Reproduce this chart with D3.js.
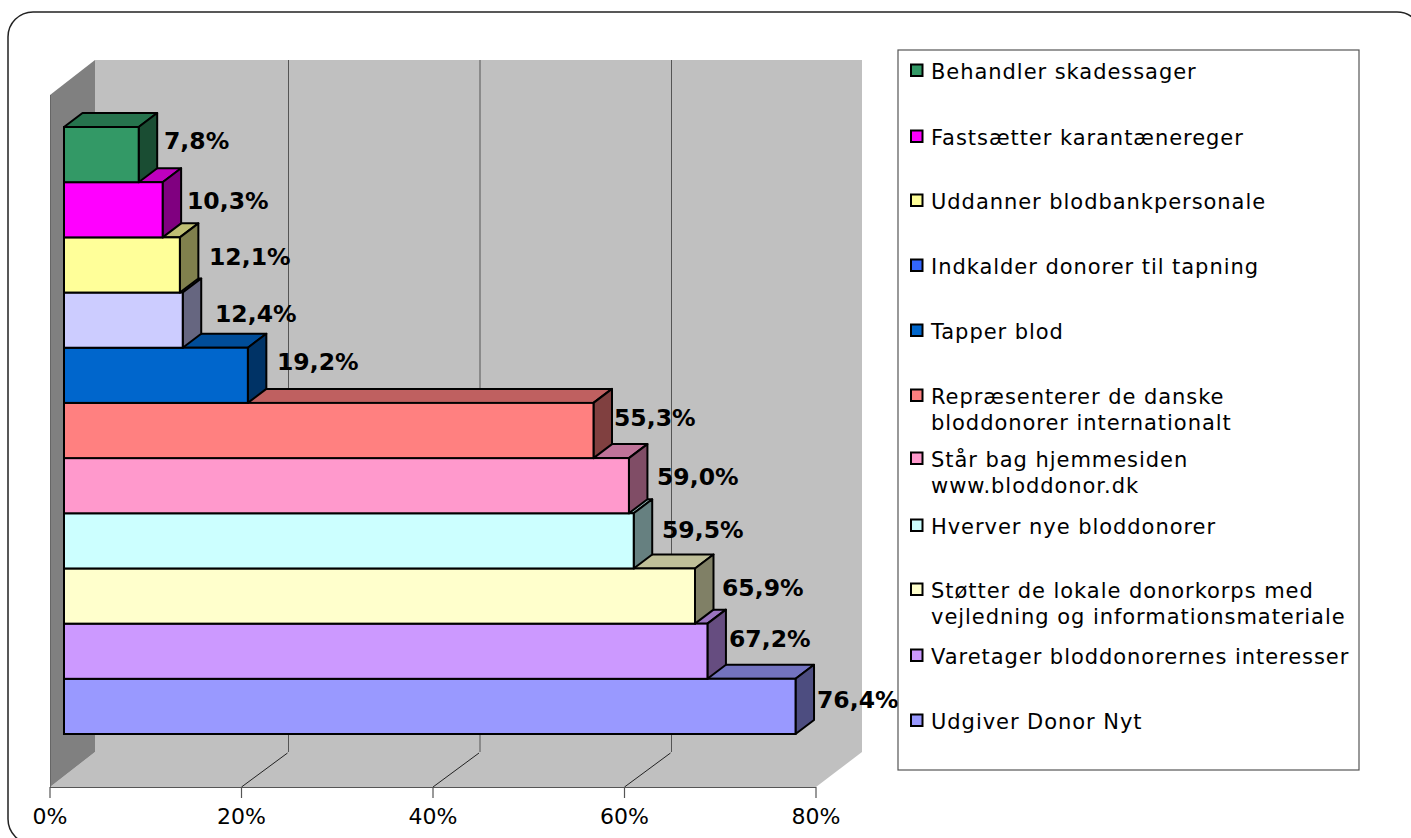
<!DOCTYPE html>
<html><head><meta charset="utf-8">
<style>html,body{margin:0;padding:0;background:#fff;overflow:hidden}svg{display:block}</style>
<script src="https://cdn.jsdelivr.net/npm/d3@7"></script></head>
<body><svg id="c" width="1411" height="838"></svg>
<script>
const categories=["Behandler skadessager","Fastsætter karantænereger","Uddanner blodbankpersonale","Indkalder donorer til tapning","Tapper blod","Repræsenterer de danske bloddonorer internationalt","Står bag hjemmesiden www.bloddonor.dk","Hverver nye bloddonorer","Støtter de lokale donorkorps med vejledning og informationsmateriale","Varetager bloddonorernes interesser","Udgiver Donor Nyt"];
const legendLines=[["Behandler skadessager"],["Fastsætter karantænereger"],["Uddanner blodbankpersonale"],["Indkalder donorer til tapning"],["Tapper blod"],["Repræsenterer de danske","bloddonorer internationalt"],["Står bag hjemmesiden","www.bloddonor.dk"],["Hverver nye bloddonorer"],["Støtter de lokale donorkorps med","vejledning og informationsmateriale"],["Varetager bloddonorernes interesser"],["Udgiver Donor Nyt"]];
const values=[7.8,10.3,12.1,12.4,19.2,55.3,59.0,59.5,65.9,67.2,76.4];
const barColors=["#339966","#FF00FF","#FFFF99","#CCCCFF","#0066CC","#FF8080","#FF99CC","#CCFFFF","#FFFFCC","#CC99FF","#9999FF"];
const legendColors=["#339966","#FF00FF","#FFFF99","#3366FF","#0066CC","#FF8080","#FF99CC","#CCFFFF","#FFFFCC","#CC99FF","#9999FF"];
const ticks=[0,20,40,60,80];
const legendY=[71,137,201,266,331,409,472,526,603,656,721];

const svg=d3.select("#c");
const font="'DejaVu Sans',Verdana,sans-serif";
const x=d3.scaleLinear().domain([0,80]).range([50,816]);
const depth={dx:45,dy:-35};
const floorY=787,wallTop=95;
const barDepth={dx:18.5,dy:-14};
const barOff=14;
const y=d3.scaleBand().domain(categories).range([127,734]).padding(0);

svg.append("rect").attr("x",8).attr("y",12).attr("width",1414).attr("height",832).attr("rx",25).attr("fill","#fff").attr("stroke","#222").attr("stroke-width",1.5);

const poly=(pts,fill,stroke,sw)=>svg.append("polygon").attr("points",pts.map(p=>p.join(",")).join(" ")).attr("fill",fill).attr("stroke",stroke||"none").attr("stroke-width",sw||0).attr("stroke-linejoin","round");
const X0=x(0),X1=x(80);
poly([[X0+depth.dx,wallTop+depth.dy],[X1+depth.dx+1,wallTop+depth.dy],[X1+depth.dx+1,floorY+depth.dy],[X0+depth.dx,floorY+depth.dy]],"#C0C0C0");
poly([[X0,floorY],[X1,floorY],[X1+depth.dx+1,floorY+depth.dy],[X0+depth.dx,floorY+depth.dy]],"#C0C0C0");
poly([[X0,wallTop],[X0+depth.dx,wallTop+depth.dy],[X0+depth.dx,floorY+depth.dy],[X0,floorY]],"#808080");
ticks.filter(t=>t>0&&t<80).forEach(t=>{
  svg.append("line").attr("x1",x(t)+47).attr("x2",x(t)+47).attr("y1",wallTop+depth.dy).attr("y2",floorY+depth.dy).attr("stroke","#555").attr("stroke-width",1);
  svg.append("line").attr("x1",x(t)).attr("x2",x(t)+46).attr("y1",floorY).attr("y2",floorY+depth.dy+1).attr("stroke","#222").attr("stroke-width",1);
});
svg.append("line").attr("x1",X0).attr("x2",X1).attr("y1",floorY+.5).attr("y2",floorY+.5).attr("stroke","#555").attr("stroke-width",1.2);
svg.append("line").attr("x1",X0+.5).attr("x2",X0+.5).attr("y1",wallTop).attr("y2",floorY).attr("stroke","#666").attr("stroke-width",1);
ticks.forEach(t=>{
  svg.append("line").attr("x1",x(t)).attr("x2",x(t)).attr("y1",floorY).attr("y2",floorY+11).attr("stroke","#555").attr("stroke-width",1.2);
  svg.append("text").attr("x",x(t)).attr("y",824).attr("text-anchor","middle").attr("font-family",font).attr("font-size",22).attr("fill","#000").text(t+"%");
});
const xb=v=>barOff+x(v);
const shade=(c,k)=>{const q=d3.rgb(c);return d3.rgb(q.r*k,q.g*k,q.b*k).formatHex();};
d3.range(categories.length-1,-1,-1).forEach(i=>{
  const c=categories[i];
  const t=y(c),b=t+y.bandwidth(),l=xb(0),r=xb(values[i]);
  const d=barDepth;
  poly([[l,t],[l+d.dx,t+d.dy],[r+d.dx,t+d.dy],[r,t]],shade(barColors[i],.75),"#000",2);
  poly([[r,t],[r+d.dx,t+d.dy],[r+d.dx,b+d.dy],[r,b]],shade(barColors[i],.5),"#000",2);
  svg.append("rect").attr("x",l).attr("y",t).attr("width",r-l).attr("height",b-t).attr("fill",barColors[i]).attr("stroke","#000").attr("stroke-width",2);
});
const labelX=[164,187,209,215,277,614,657,662,722,729,817];
const labelY=[140,200,256,313,361,417,476,529,587,638,699];
categories.forEach((c,i)=>{
  svg.append("text").attr("x",labelX[i]).attr("y",labelY[i]).attr("dy",9).attr("font-family",font).attr("font-weight","bold").attr("font-size",23.5).attr("fill","#000").text(values[i].toFixed(1).replace(".",",")+"%");
});
svg.append("rect").attr("x",898).attr("y",50).attr("width",461).attr("height",720).attr("fill","none").attr("stroke","#555").attr("stroke-width",1.2);
categories.forEach((c,i)=>{
  const ly=legendY[i];
  const multi=legendLines[i].length>1;
  const sy=multi?ly-13:ly;
  svg.append("rect").attr("x",911).attr("y",sy-6.5).attr("width",11.5).attr("height",11.5).attr("fill",legendColors[i]).attr("stroke","#000").attr("stroke-width",2);
  legendLines[i].forEach((s,j)=>{
    svg.append("text").attr("x",931).attr("y",sy+8+j*26).attr("font-family",font).attr("font-size",21).attr("letter-spacing",.95).attr("fill","#000").text(s);
  });
});
</script></body></html>
